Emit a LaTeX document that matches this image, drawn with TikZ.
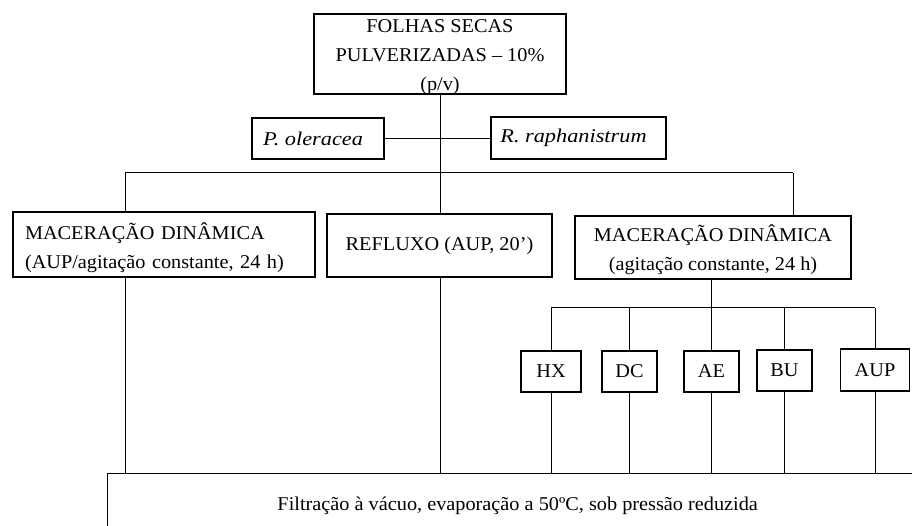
\documentclass[tikz,border=0pt]{standalone}
\usepackage{fontspec}
\setmainfont{Liberation Serif}[FakeStretch=1.04]
\begin{document}
\begin{tikzpicture}[x=1pt,y=-1pt,
  box/.style={draw, line width=1.4pt, inner sep=0pt, align=center},
  lbl/.style={inner sep=0pt, align=center},
  conn/.style={line width=1pt},
  font=\fontsize{19.5}{29}\selectfont]
\useasboundingbox (0,0) rectangle (912,526);
\clip (0,0) rectangle (912,526);
% boxes
\node[box, minimum width=252, minimum height=80,
  label={[lbl, yshift=-3pt]center:FOLHAS SECAS\\PULVERIZADAS – 10\%\\(p/v)}] (top) at (440,54) {};
\node[box, minimum width=132, minimum height=41,
  label={[lbl, xshift=-5pt]center:\scalebox{1.1}[1]{\itshape P. oleracea}}] (po) at (318,138.5) {};
\node[box, minimum width=175, minimum height=42,
  label={[lbl, xshift=-5pt]center:\scalebox{1.1}[1]{\itshape R. raphanistrum}}] (rr) at (578.5,138) {};
\node[box, minimum width=302, minimum height=65,
  label={[lbl, align=left, text width=278, yshift=-3pt]center:MACERAÇÃO DINÂMICA\\(AUP/agitação constante, 24 h)}] (m1) at (164,244.5) {};
\node[box, minimum width=225, minimum height=63] (rf) at (439.5,245.5) {REFLUXO (AUP, 20’)};
\node[box, minimum width=276, minimum height=63,
  label={[lbl, yshift=-2pt]center:MACERAÇÃO DINÂMICA\\(agitação constante, 24 h)}] (m3) at (713,247.5) {};
\node[box, minimum width=60, minimum height=41] (hx) at (551,371.5) {HX};
\node[box, minimum width=55, minimum height=41] (dc) at (629.5,371.5) {DC};
\node[box, minimum width=55, minimum height=41] (ae) at (711.5,371.5) {AE};
\node[box, minimum width=55, minimum height=41] (bu) at (784.5,370.5) {BU};
\node[box, minimum width=69, minimum height=42] (aup) at (875,370) {AUP};
\node[box, minimum width=820, minimum height=80, anchor=north west] (filt) at (107,473) {\raisebox{19pt}{Filtração à vácuo, evaporação a 50ºC, sob pressão reduzida}};
% connectors
\coordinate (bl) at (125,173);
\coordinate (br) at (793,173);
\coordinate (c3) at (711,308);
\coordinate (b2l) at (551,308);
\coordinate (b2r) at (875,308);
\draw[conn] (top.south) -- (top.south |- bl);
\draw[conn] (po.east) -- (po.east -| rr.west);
\draw[conn] (bl) -- (br);
\draw[conn] (bl) -- (bl |- m1.north);
\draw[conn] (top.south |- bl) -- (top.south |- rf.north);
\draw[conn] (br) -- (br |- m3.north);
\draw[conn] (bl |- m1.south) -- (bl |- filt.north);
\draw[conn] (top.south |- rf.south) -- (top.south |- filt.north);
\draw[conn] (c3 |- m3.south) -- (c3);
\draw[conn] (b2l) -- (b2r);
\draw[conn] (b2l) -- (hx.north);
\draw[conn] (dc.north |- b2l) -- (dc.north);
\draw[conn] (ae.north |- b2l) -- (ae.north);
\draw[conn] (bu.north |- b2l) -- (bu.north);
\draw[conn] (b2r) -- (aup.north);
\draw[conn] (hx.south) -- (hx.south |- filt.north);
\draw[conn] (dc.south) -- (dc.south |- filt.north);
\draw[conn] (ae.south) -- (ae.south |- filt.north);
\draw[conn] (bu.south) -- (bu.south |- filt.north);
\draw[conn] (aup.south) -- (aup.south |- filt.north);
\end{tikzpicture}
\end{document}
